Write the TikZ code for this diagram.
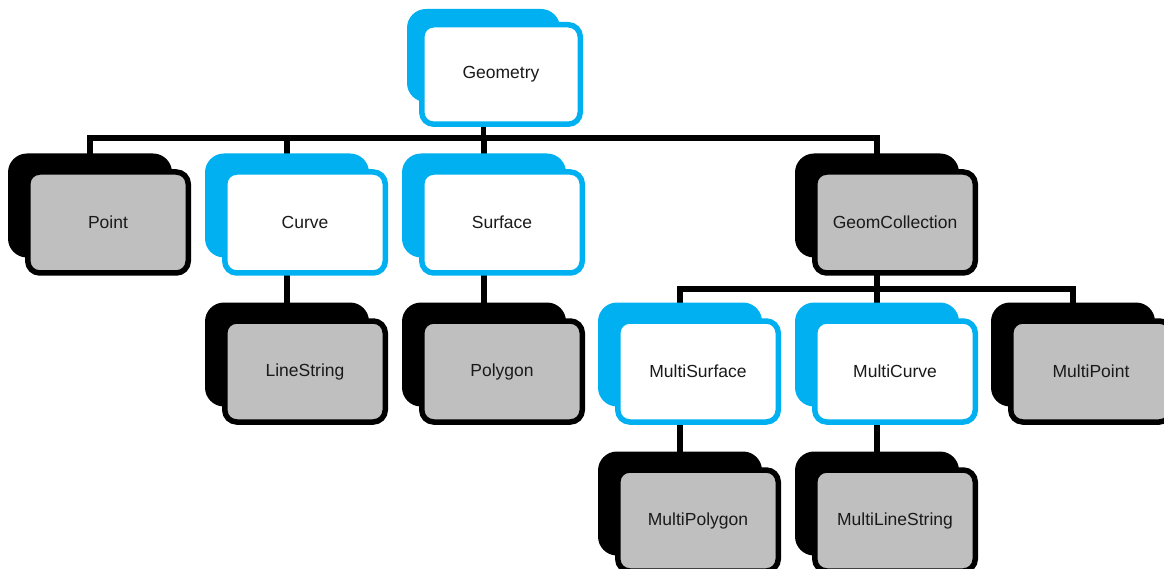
\documentclass[tikz,border=0pt]{standalone}
\usepackage{fontspec}
\setmainfont{Liberation Sans}
\usetikzlibrary{backgrounds}
\definecolor{skyblue}{HTML}{00B0F0}
\definecolor{boxgray}{HTML}{BFBFBF}
\definecolor{labeltext}{HTML}{1A1A1A}
\begin{document}
\begin{tikzpicture}[x=1pt,y=-1pt,
  backbox/.style={rectangle, rounded corners=19pt, inner sep=0pt,
    minimum width=164pt, minimum height=104pt},
  frontbox/.style={rectangle, rounded corners=12pt, line width=5.5pt, inner sep=0pt,
    minimum width=160.5pt, minimum height=101pt,
    font=\fontsize{17.5}{21}\selectfont, text=labeltext},
  blueback/.style={backbox, fill=skyblue},
  blackback/.style={backbox, fill=black},
  bluefront/.style={frontbox, draw=skyblue, fill=white},
  blackfront/.style={frontbox, draw=black, fill=boxgray},
  conn/.style={line width=5.5pt, draw=black}]
\clip (0,0) rectangle (1164,569);

% root
\node[blueback, minimum width=153pt, minimum height=93pt] (geob) at (483.5,55.5) {};
\node[bluefront, minimum width=158.5pt, minimum height=99.5pt] (geo) at (501,74.5) {Geometry};

% second level: back plates
\node[blackback] (pointb) at (90,205.5) {};
\node[blueback]  (curveb) at (287,205.5) {};
\node[blueback]  (surfb)  at (484,205.5) {};
\node[blackback] (gcb)    at (877,205.5) {};
% second level: front boxes
\node[blackfront] (point) at (108,222.5) {Point};
\node[bluefront]  (curve) at (305,222.5) {Curve};
\node[bluefront]  (surf)  at (502,222.5) {Surface};
\node[blackfront] (gc)    at (895,222.5) {GeomCollection};

% third level
\node[blackback] (lsb)   at (287,354.5) {};
\node[blackback] (polyb) at (484,354.5) {};
\node[blueback]  (msb)   at (680,354.5) {};
\node[blueback]  (mcb)   at (877,354.5) {};
\node[blackback] (mpb)   at (1073,354.5) {};
\node[blackfront] (ls)   at (305,371.5) {LineString};
\node[blackfront] (poly) at (502,371.5) {Polygon};
\node[bluefront]  (ms)   at (698,371.5) {MultiSurface};
\node[bluefront]  (mc)   at (895,371.5) {MultiCurve};
\node[blackfront] (mp)   at (1091,371.5) {MultiPoint};

% fourth level
\node[blackback] (mpolyb) at (680,503.5) {};
\node[blackback] (mlsb)   at (877,503.5) {};
\node[blackfront] (mpoly) at (698,520.5) {MultiPolygon};
\node[blackfront] (mls)   at (895,520.5) {MultiLineString};

% connectors, kept behind the boxes
\begin{scope}[on background layer]
  \coordinate (busA) at (483.5,138);
  \coordinate (busB) at (877,289);
  \draw[conn] (geob.center) -- (busA);
  \draw[conn] (pointb.center) |- (busA) -| (gcb.center);
  \draw[conn] (curveb.center) -- (curveb.center |- busA);
  \draw[conn] (surfb.center) -- (surfb.center |- busA);
  \draw[conn] (curveb.center) -- (lsb.center);
  \draw[conn] (surfb.center) -- (polyb.center);
  \draw[conn] (gcb.center) -- (mcb.center);
  \draw[conn] (msb.center) |- (busB) -| (mpb.center);
  \draw[conn] (msb.center) -- (mpolyb.center);
  \draw[conn] (mcb.center) -- (mlsb.center);
\end{scope}
\end{tikzpicture}
\end{document}
